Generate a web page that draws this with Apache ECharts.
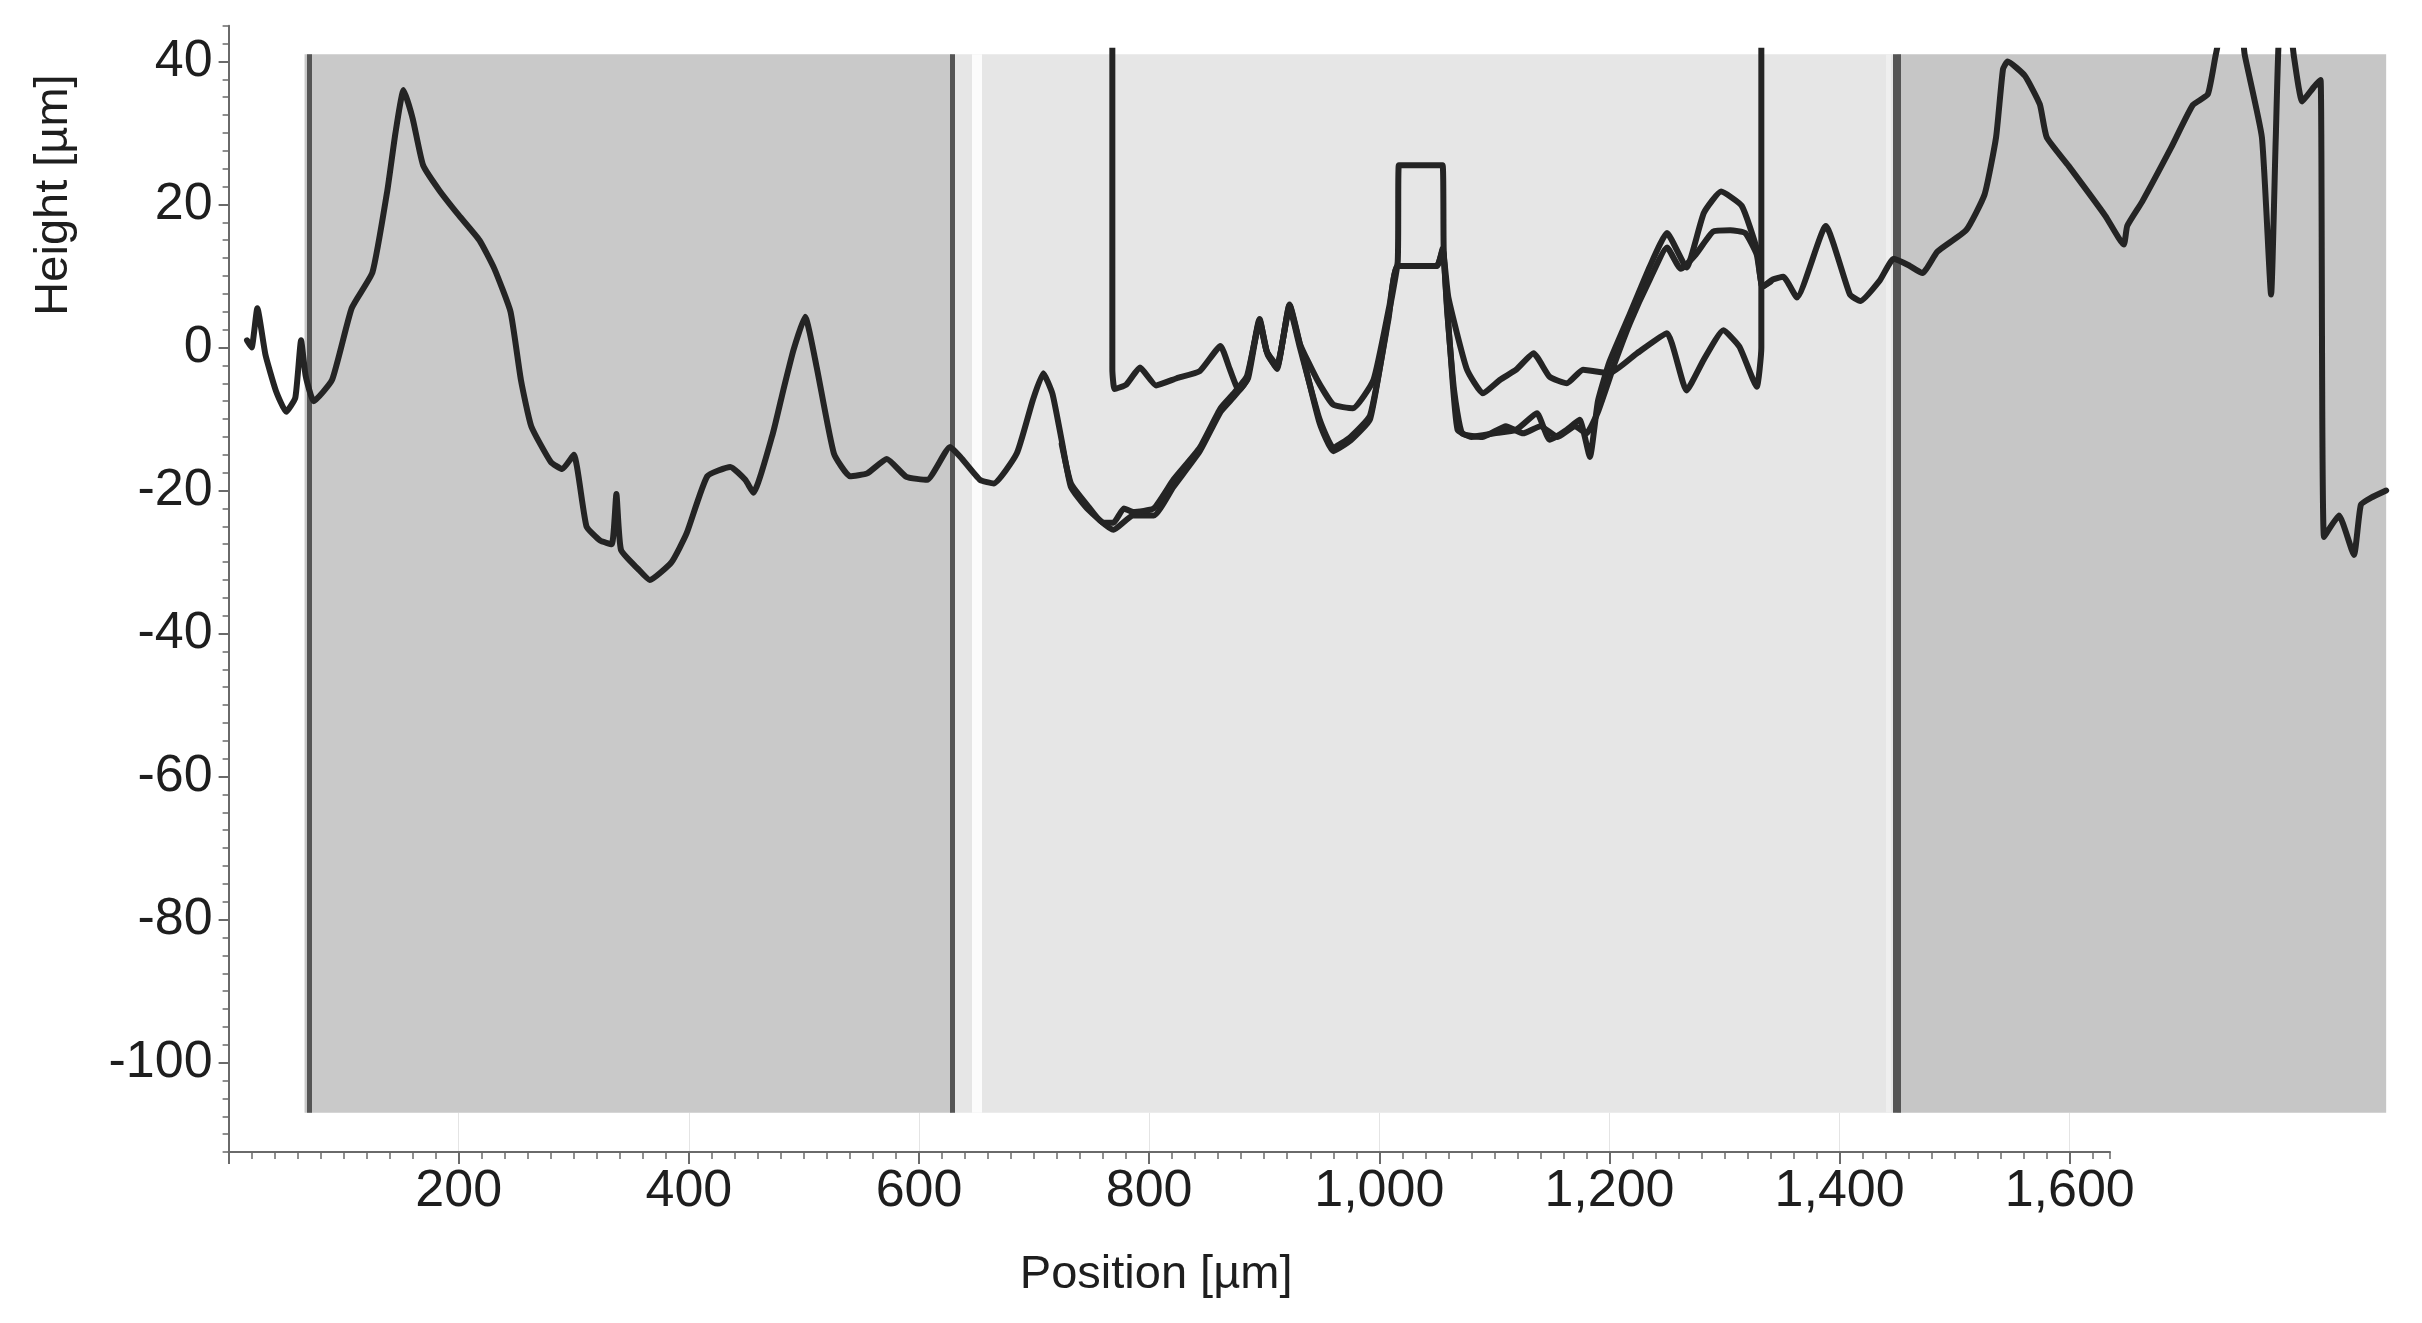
<!DOCTYPE html>
<html>
<head>
<meta charset="utf-8">
<script src="https://cdn.jsdelivr.net/npm/echarts@6/dist/echarts.min.js"></script>
<style>
html,body{margin:0;padding:0;background:#ffffff;}
#chart{width:2422px;height:1323px;}
</style>
</head>
<body>
<div id="chart"></div>
<script>
// ---------------- data (µm) ----------------
const xTickValues = [200, 400, 600, 800, 1000, 1200, 1400, 1600];
const yTickValues = [40, 20, 0, -20, -40, -60, -80, -100];

// profile trace A (full length)
const posA = [16,20,25,32,41,50,58,63,67,74,90,107,125,138,145,152,160,169,183,200,218,231,245,254,263,280,290,300,311,323,333,337,341,356,366,385,398,416,436,449,456,473,482,491,501,511,526,540,555,572,589,607,627,636,653,665,685,699,708,716,724,732,746,769,786,804,821,844,862,873,885,896,902,911,922,931,948,960,975,992,1008,1016,1017,1055,1056,1062,1068,1080,1100,1119,1137,1148,1163,1174,1183,1190,1200,1218,1235,1250,1267,1282,1297,1315,1328,1333,1342,1351,1363,1388,1409,1418,1435,1447,1460,1472,1485,1510,1526,1536,1542,1546,1561,1574,1580,1599,1631,1647,1650,1663,1688,1707,1720,1727,1735,1748,1752,1767,1775,1779,1783,1790,1795,1802,1812,1818,1821,1834,1847,1853,1862,1875];
const hA   = [1,0,5.5,-1,-6,-9,-7,1,-4,-7.5,-4.5,5.5,10.5,22,30,36,32,25.5,22,18.5,15,11,5,-4.5,-11,-16,-17,-15,-25,-27,-27.5,-20.5,-28.3,-31,-32.5,-30,-26,-18,-16.7,-18.5,-20.3,-12,-6,-0.3,4.3,-2.7,-14.8,-18,-17.6,-15.6,-18.1,-18.5,-13.9,-15.3,-18.5,-19,-14.8,-7.3,-3.6,-6.5,-13,-19.5,-22.5,-25.5,-23.5,-23.5,-19.5,-14.5,-9,-7,-4.5,4,-0.5,-3,6,0.5,-10.5,-14.5,-13,-10,4.5,12,25.5,25.5,13.5,-1,-11.5,-12.5,-12,-11.5,-9.2,-12.9,-11.5,-10.1,-15.3,-7.5,-2,4.8,11.3,16,11.2,18.8,21.8,19.8,13.8,8.5,9.5,9.9,7,17,7.4,6.5,9.4,12.4,11.5,10.4,13.4,16.4,21.4,29.4,38.9,40,38,34,29.4,25.4,18.4,14.4,17,20.4,27.9,33.9,35.4,41,46,46,41,29.4,7.4,29,46,46,40.5,34.4,36.4,37.4,-26.5,-23.5,-29,-22,-21,-20];

// profile trace B (enters from above the range at ~768 µm, leaves at ~1332 µm)
const posB = [768,768,770,780,792,806,824,844,862,870,878,886,896,903,911,922,931,946,960,977,995,1009,1016,1050,1055,1060,1076,1090,1105,1119,1134,1148,1163,1177,1200,1224,1250,1267,1282,1299,1313,1328,1332,1332];
const hB   = [46,-3,-5.8,-5.2,-2.8,-5.3,-4.3,-3.3,0.2,-3,-6,-4.3,3.8,-1,-2.8,5.9,0.5,-4.5,-8,-8.5,-4.5,6,11.4,11.4,13.6,7,-3,-6.4,-4.5,-3.1,-0.8,-4.1,-5,-3.1,-3.6,-0.8,2,-6,-1.7,2.4,0.1,-5.5,0,46];

// profile trace C (overlaps A, diverges in the middle)
const posC = [724,732,746,760,769,778,786,804,821,844,862,873,885,896,902,911,922,931,948,960,975,992,1008,1016,1050,1055,1059,1065,1072,1090,1110,1125,1140,1155,1170,1180,1190,1205,1218,1235,1250,1262,1275,1290,1305,1318,1328,1333,1340];
const hC   = [-13.5,-19,-22,-24.5,-24.5,-22.5,-23,-22.5,-18.5,-14,-8.5,-6.5,-4,3.5,-0.5,-2.5,5.5,0,-10,-14,-12.5,-9.5,4,11.4,11.4,13.8,5,-6,-12,-12.5,-11,-12,-11,-12.5,-11,-12,-9,-2,3.5,9.5,14,11,13,16.2,16.4,16,13,8.5,9.2];

// image background bands and dividing lines (µm / µm)
const bandStart = [66, 629, 1450];
const bandEnd   = [629, 1450, 1875];
const imageTop = 41, imageBottom = -107;
const darkLines = [70, 629, 1450];
const brightLines = [650, 1442];

// ---------------- layout ----------------
const W = 2422, H = 1323;
const X0 = 228.6, PXU = 1.1507;   // px for x=0, px per µm
const Y0 = 347.5, PYU = 7.1515;   // px for y=0, px per µm
const xpx = v => X0 + v * PXU;
const ypx = v => Y0 - v * PYU;

const zip = (xs, ys) => xs.map((x, i) => [x, ys[i]]);

const FONT = "'Liberation Sans',Arial,sans-serif";
const AX = '#6a6a6a';
const TXT = '#1e1e1e';

const bandColors = ['#c9c9c9', '#e6e6e6', '#c6c6c6'];
const darkWidths = [5, 5, 8];
const brightColors = ['#fcfcfc', '#efefef'];
const brightWidths = [10, 5];

const chart = echarts.init(document.getElementById('chart'), null, {renderer: 'canvas'});

const grids = [
  // 0: axis lines + minor ticks
  {left: X0, right: W - xpx(1635), top: ypx(45), bottom: H - ypx(-112.5)},
  // 1: major x ticks / labels
  {left: X0, right: W - xpx(1600), top: ypx(imageBottom), bottom: H - ypx(-112.5)},
  // 2: major y ticks / labels
  {left: X0, width: 50, top: ypx(40), bottom: H - ypx(-100)},
  // 3: data
  {left: X0, right: W - xpx(1875), top: ypx(41.5), bottom: H - ypx(-112.5)}
].map(g => Object.assign({outerBoundsMode: 'none', containLabel: false, show: false}, g));

const traceStyle = {color: '#242424', width: 6, cap: 'round', join: 'round'};

const option = {
  animation: false,
  backgroundColor: '#ffffff',
  grid: grids,
  xAxis: [
    {gridIndex: 0, type: 'value', min: 0, max: 1635, interval: 20,
     axisLine: {show: true, onZero: false, lineStyle: {color: AX, width: 2}},
     axisTick: {show: true, length: 7, lineStyle: {color: AX, width: 1.5}},
     axisLabel: {show: false}, splitLine: {show: false}},
    {gridIndex: 1, type: 'value', min: 0, max: 1600, interval: 200,
     axisLine: {show: false, onZero: false},
     axisTick: {show: true, length: 12, lineStyle: {color: AX, width: 2}},
     splitLine: {show: true, lineStyle: {color: '#e4e4e4', width: 1}},
     axisLabel: {show: true, margin: 14, fontFamily: FONT, fontSize: 52, color: TXT,
       formatter: v => xTickValues.includes(v) ? v.toLocaleString('en-US') : ''},
     name: 'Position [µm]', nameLocation: 'middle', nameGap: 100,
     nameTextStyle: {fontFamily: FONT, fontSize: 47, color: TXT, padding: [0, 0, 0, 14]}},
    {gridIndex: 2, type: 'value', min: 0, max: 1, show: false},
    {gridIndex: 3, type: 'value', min: 0, max: 1875, show: false}
  ],
  yAxis: [
    {gridIndex: 0, type: 'value', min: -112.5, max: 45, interval: 2.5,
     axisLine: {show: true, onZero: false, lineStyle: {color: AX, width: 2}},
     axisTick: {show: true, length: 6, lineStyle: {color: AX, width: 1.5}},
     axisLabel: {show: false}, splitLine: {show: false}},
    {gridIndex: 1, type: 'value', min: 0, max: 1, show: false},
    {gridIndex: 2, type: 'value', min: -100, max: 40, interval: 20,
     axisLine: {show: false, onZero: false},
     axisTick: {show: true, length: 10, lineStyle: {color: AX, width: 2}},
     splitLine: {show: false},
     axisLabel: {show: true, margin: 16, fontFamily: FONT, fontSize: 52, color: TXT,
       formatter: v => yTickValues.includes(v) ? String(v) : ''}},
    {gridIndex: 3, type: 'value', min: -112.5, max: 41.5, show: false}
  ],
  graphic: [{
    type: 'text', x: 54, y: 195, rotation: Math.PI / 2,
    style: {text: 'Height [µm]', fontFamily: FONT, fontSize: 47, fill: TXT,
            align: 'center', verticalAlign: 'middle'}
  }],
  series: [
    {
      name: 'image', type: 'line', xAxisIndex: 3, yAxisIndex: 3, data: [], z: 1,
      silent: true,
      markArea: {
        silent: true, z: 1,
        data: bandStart.map((s, i) => [
          {coord: [s, imageBottom], itemStyle: {color: bandColors[i], opacity: 1}},
          {coord: [bandEnd[i], imageTop]}
        ])
      },
      markLine: {
        silent: true, z: 2, symbol: ['none', 'none'], label: {show: false},
        data: darkLines.map((x, i) => [
          {coord: [x, imageBottom], lineStyle: {color: '#555555', width: darkWidths[i], type: 'solid'}},
          {coord: [x, imageTop]}
        ]).concat(brightLines.map((x, i) => [
          {coord: [x, imageBottom], lineStyle: {color: brightColors[i], width: brightWidths[i], type: 'solid'}},
          {coord: [x, imageTop]}
        ]))
      }
    },
    {name: 'Profile A', type: 'line', xAxisIndex: 3, yAxisIndex: 3, z: 5,
     data: zip(posA, hA), showSymbol: false, clip: true, smooth: 0.15,
     lineStyle: traceStyle},
    {name: 'Profile B', type: 'line', xAxisIndex: 3, yAxisIndex: 3, z: 5,
     data: zip(posB, hB), showSymbol: false, clip: true, smooth: 0.15,
     lineStyle: traceStyle},
    {name: 'Profile C', type: 'line', xAxisIndex: 3, yAxisIndex: 3, z: 5,
     data: zip(posC, hC), showSymbol: false, clip: true, smooth: 0.15,
     lineStyle: traceStyle}
  ]
};
chart.setOption(option);
</script>
</body>
</html>
